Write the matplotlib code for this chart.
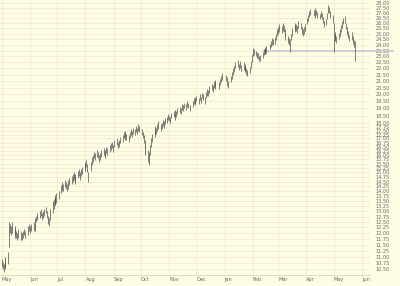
import matplotlib
matplotlib.use('agg')
import matplotlib.pyplot as plt
import pandas as pd

# daily highs / lows (May 2006 - May 2007)
hi = [10.9, 10.8, 10.7, 10.9, 11.0, 11.2, 12.5, 12.4, 12.3, 12.5,
      12.2, 12.3, 12.1, 12.0, 12.2, 12.1, 12.0, 12.1, 12.2, 12.1,
      12.3, 12.4, 12.3, 12.4, 12.5, 12.4, 12.7, 12.8, 12.9, 13.0,
      13.1, 12.9, 13.0, 13.1, 13.2, 13.0, 12.8, 12.7, 13.1, 13.5,
      13.6, 13.8, 13.7, 13.9, 14.0, 14.3, 14.5, 14.4, 14.6, 14.5,
      14.4, 14.6, 14.7, 14.8, 14.9, 15.0, 14.8, 14.9, 15.1, 15.2,
      15.0, 15.2, 15.3, 15.5, 15.6, 15.7, 15.5, 15.0, 15.6, 15.9,
      16.0, 16.2, 16.1, 16.3, 16.2, 16.0, 16.1, 16.3, 16.4, 16.2,
      16.3, 16.5, 16.4, 16.6, 16.7, 16.8, 16.6, 16.9, 17.0, 16.8,
      16.9, 17.1, 17.2, 17.4, 17.3, 17.5, 17.3, 17.2, 17.4, 17.6,
      17.5, 17.7, 17.6, 17.8, 17.7, 17.9, 17.8, 17.6, 17.4, 17.2,
      16.9, 16.6, 16.3, 16.2, 16.6, 17.0, 17.3, 17.6, 17.8, 17.7,
      17.9, 18.1, 17.9, 18.0, 18.2, 18.1, 18.3, 18.4, 18.6, 18.5,
      18.4, 18.7, 18.8, 18.6, 18.9, 18.8, 19.0, 19.1, 19.0, 19.3,
      19.2, 19.4, 19.3, 19.5, 19.4, 19.2, 19.5, 19.7, 19.6, 19.8,
      19.9, 19.7, 20.0, 19.8, 20.1, 20.0, 19.8, 20.2, 20.4, 20.3,
      20.6, 20.8, 20.7, 21.0, 20.9, 21.1, 20.9, 21.2, 21.4, 21.6,
      21.5, 21.3, 21.0, 21.4, 21.7, 22.0, 22.2, 22.5, 22.7, 22.4,
      22.6, 22.3, 22.5, 22.2, 22.4, 22.0, 21.9, 22.1, 22.6, 23.2,
      23.7, 23.6, 23.5, 23.4, 23.3, 23.0, 23.1, 23.4, 23.6, 23.8,
      23.7, 23.9, 24.1, 24.3, 24.6, 24.5, 24.7, 25.0, 25.4, 25.6,
      25.9, 25.7, 26.0, 25.8, 25.4, 25.0, 24.8, 24.6, 24.5, 25.0,
      25.5, 25.8, 26.0, 25.9, 25.7, 26.2, 26.0, 25.6, 25.4, 25.6,
      25.9, 26.5, 26.8, 27.2, 27.4, 27.3, 27.0, 27.5, 27.3, 27.1,
      26.9, 27.2, 27.0, 26.6, 26.2, 26.4, 27.0, 27.8, 27.6, 27.2,
      26.8, 26.0, 25.2, 25.0, 24.8, 25.1, 25.4, 25.8, 26.2, 26.5,
      26.7, 26.0, 25.6, 25.3, 24.9, 25.2, 24.8, 24.4, 24.3]
lo = [10.6, 10.5, 10.4, 10.5, 10.6, 10.7, 11.4, 12.0, 11.9, 12.0,
      11.8, 11.9, 11.8, 11.7, 11.8, 11.7, 11.7, 11.8, 11.9, 11.8,
      11.9, 12.1, 12.0, 12.1, 12.1, 12.1, 12.3, 12.5, 12.6, 12.7,
      12.8, 12.6, 12.7, 12.8, 12.9, 12.7, 12.4, 12.3, 12.6, 12.9,
      13.1, 13.3, 13.3, 13.4, 13.6, 13.9, 14.0, 14.0, 14.2, 14.1,
      14.0, 14.1, 14.3, 14.4, 14.5, 14.6, 14.4, 14.5, 14.7, 14.8,
      14.6, 14.8, 14.9, 15.1, 15.2, 15.3, 15.0, 14.5, 15.1, 15.4,
      15.6, 15.8, 15.7, 15.9, 15.8, 15.6, 15.7, 15.9, 16.0, 15.8,
      15.9, 16.1, 16.0, 16.2, 16.3, 16.4, 16.2, 16.5, 16.6, 16.4,
      16.5, 16.7, 16.8, 17.0, 16.9, 17.1, 16.9, 16.8, 17.0, 17.2,
      17.1, 17.3, 17.2, 17.4, 17.3, 17.5, 17.4, 17.2, 17.0, 16.7,
      16.4, 16.0, 15.6, 15.4, 16.0, 16.5, 16.8, 17.1, 17.3, 17.3,
      17.5, 17.6, 17.5, 17.6, 17.8, 17.7, 17.9, 18.0, 18.2, 18.1,
      18.0, 18.3, 18.4, 18.2, 18.5, 18.4, 18.6, 18.7, 18.6, 18.9,
      18.8, 19.0, 18.9, 19.1, 19.0, 18.8, 19.1, 19.3, 19.2, 19.4,
      19.5, 19.3, 19.6, 19.4, 19.7, 19.6, 19.3, 19.7, 19.9, 19.9,
      20.1, 20.3, 20.2, 20.5, 20.4, 20.6, 20.4, 20.7, 20.9, 21.1,
      21.0, 20.6, 20.5, 20.9, 21.2, 21.5, 21.7, 22.0, 22.1, 21.9,
      22.0, 21.8, 21.9, 21.7, 21.8, 21.5, 21.4, 21.6, 22.0, 22.5,
      23.0, 23.1, 23.0, 22.9, 22.8, 22.6, 22.6, 22.9, 23.1, 23.2,
      23.2, 23.3, 23.6, 23.8, 24.0, 24.0, 24.1, 24.4, 24.8, 25.0,
      25.2, 25.1, 25.3, 25.2, 24.8, 24.4, 24.2, 24.0, 23.4, 24.4,
      24.8, 25.2, 25.4, 25.3, 25.1, 25.5, 25.4, 25.0, 24.8, 25.0,
      25.3, 25.9, 26.2, 26.6, 26.8, 26.7, 26.5, 26.9, 26.8, 26.5,
      26.4, 26.6, 26.4, 26.0, 25.6, 25.8, 26.4, 27.0, 27.0, 26.5,
      26.0, 23.4, 24.4, 24.3, 24.2, 24.5, 24.8, 25.2, 25.5, 25.9,
      26.0, 25.4, 24.9, 24.6, 24.3, 24.4, 24.1, 23.8, 22.6]

holidays = ['2006-05-29', '2006-07-04', '2006-09-04', '2006-11-23',
            '2006-12-25', '2007-01-01', '2007-01-02', '2007-01-15',
            '2007-02-19', '2007-04-06']
dates = pd.bdate_range('2006-05-01', periods=len(hi), freq='C', holidays=holidays)

support = 23.45
support_from = pd.Timestamp('2007-02-12')

month_labels = ['May', 'Jun', 'Jul', 'Aug', 'Sep', 'Oct', 'Nov', 'Dec',
                'Jan', 'Feb', 'Mar', 'Apr', 'May', 'Jun']
yticks = [10.5, 10.75, 11.0, 11.25, 11.5, 11.75, 12.0, 12.25, 12.5, 12.75,
          13.0, 13.25, 13.5, 13.75, 14.0, 14.25, 14.5, 14.75, 15.0, 15.25,
          15.5, 15.75, 16.0, 16.25, 16.5, 16.75, 17.0, 17.25, 17.5, 17.75,
          18.0, 18.5, 19.0, 19.5, 20.0, 20.5, 21.0, 21.5, 22.0, 22.5, 23.0,
          23.5, 24.0, 24.5, 25.0, 25.5, 26.0, 26.5, 27.0, 27.5, 28.0]

bg = '#fffce6'
grid = '#f1ebcf'

fig = plt.figure(figsize=(4, 2.86), dpi=100, facecolor=bg)
ax = fig.add_axes([0.0, 0.04, 0.925, 0.96])
ax.set_facecolor(bg)

ax.vlines(dates, lo, hi, color='#4e4e4e', linewidth=0.5)

ax.set_yscale('log')
ax.set_ylim(10.30, 28.31)
ax.set_xlim(pd.Timestamp('2006-04-29'), pd.Timestamp('2007-06-10'))

# support line, runs on into the price labels
ax.plot([support_from, pd.Timestamp('2007-07-05')], [support, support],
        color='#c9cdd2', linewidth=1.3, clip_on=False, zorder=1)

ax.yaxis.tick_right()
ax.set_yticks(yticks)
ax.set_yticklabels(['%.2f' % v for v in yticks])
ax.yaxis.set_minor_locator(matplotlib.ticker.NullLocator())
ax.tick_params(axis='y', length=0, labelsize=3.6, labelcolor='#666666', pad=4)

months = pd.date_range('2006-05-01', periods=len(month_labels), freq='MS')
ax.set_xticks(months)
ax.set_xticklabels(month_labels, ha='left')
ax.tick_params(axis='x', length=0, labelsize=3.6, labelcolor='#666666', pad=2)

ax.grid(True, color=grid, linewidth=0.6)
ax.set_axisbelow(True)
for s in ['top', 'right', 'left']:
    ax.spines[s].set_visible(False)
ax.spines['bottom'].set_color('#dcd5b6')
ax.spines['bottom'].set_linewidth(0.6)

plt.savefig('out.png', dpi=100, facecolor=bg)
